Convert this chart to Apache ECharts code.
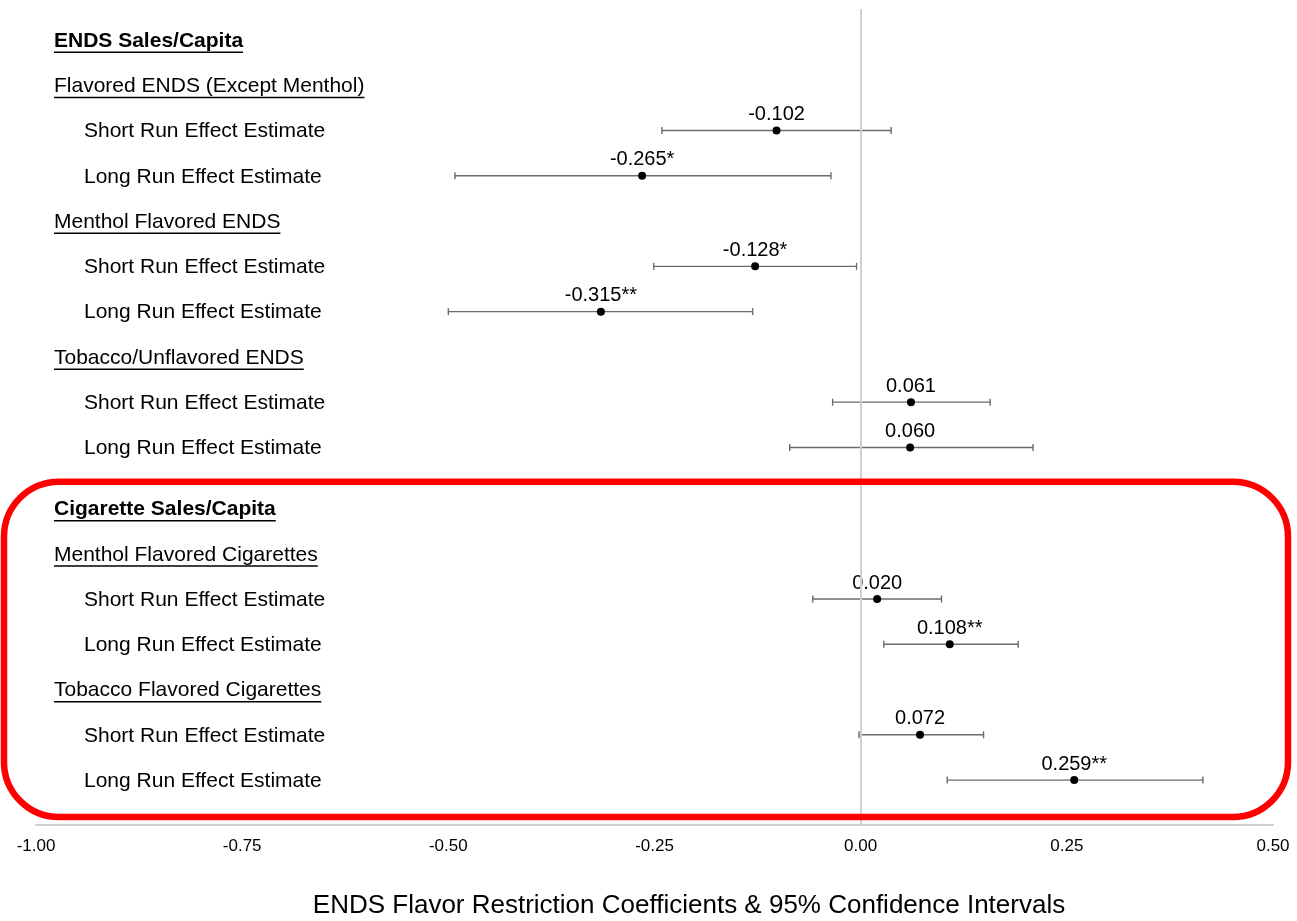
<!DOCTYPE html>
<html>
<head>
<meta charset="utf-8">
<title>ENDS Flavor Restriction Coefficients</title>
<script src="https://cdn.jsdelivr.net/npm/echarts@6/dist/echarts.min.js"></script>
<style>
  html, body { margin: 0; padding: 0; background: #fff; }
  #chart { width: 1297px; height: 921px; }
</style>
</head>
<body>
<div id="chart"></div>
<script>
// Row labels, top to bottom; kind: 'group' (bold header), 'sub' (product), 'est' (estimate row)
const rowLabels = [
  'ENDS Sales/Capita',
  'Flavored ENDS (Except Menthol)',
  'Short Run Effect Estimate',
  'Long Run Effect Estimate',
  'Menthol Flavored ENDS',
  'Short Run Effect Estimate',
  'Long Run Effect Estimate',
  'Tobacco/Unflavored ENDS',
  'Short Run Effect Estimate',
  'Long Run Effect Estimate',
  'Cigarette Sales/Capita',
  'Menthol Flavored Cigarettes',
  'Short Run Effect Estimate',
  'Long Run Effect Estimate',
  'Tobacco Flavored Cigarettes',
  'Short Run Effect Estimate',
  'Long Run Effect Estimate'
];
const rowKinds = [
  'group', 'sub', 'est', 'est', 'sub', 'est', 'est', 'sub', 'est', 'est',
  'group', 'sub', 'est', 'est', 'sub', 'est', 'est'
];

// Coefficients and 95% confidence bounds (null on header rows)
const estimates = [null, null, -0.102, -0.265, null, -0.128, -0.315, null, 0.061, 0.060,
                   null, null, 0.020, 0.108, null, 0.072, 0.259];
const ciLow     = [null, null, -0.241, -0.492, null, -0.251, -0.500, null, -0.034, -0.086,
                   null, null, -0.058, 0.028, null, -0.002, 0.105];
const ciHigh    = [null, null, 0.037, -0.036, null, -0.005, -0.131, null, 0.157, 0.209,
                   null, null, 0.098, 0.191, null, 0.149, 0.415];
const stars     = ['', '', '', '*', '', '*', '**', '', '', '',
                   '', '', '', '**', '', '', '**'];

// X axis ticks
const xTicks = [-1.00, -0.75, -0.50, -0.25, 0.00, 0.25, 0.50];
const axisTitle = 'ENDS Flavor Restriction Coefficients & 95% Confidence Intervals';

const FONT = '"Liberation Sans", Arial, Helvetica, sans-serif';
const LABEL_SIZE = 21;
// extra vertical space (in rows) before the cigarette block
const BLOCK_GAP = 0.348;
const rowPos = rowLabels.map((_, i) => (i >= 10 ? i + BLOCK_GAP : i));

const measureCtx = document.createElement('canvas').getContext('2d');
function textWidth(str, bold) {
  measureCtx.font = (bold ? 'bold ' : '') + LABEL_SIZE + 'px ' + FONT;
  return measureCtx.measureText(str).width;
}

const labelData = rowLabels.map((name, i) => [rowPos[i], i]);
const ciData = [];
const pointData = [];
estimates.forEach((v, i) => {
  if (v === null) return;
  ciData.push([rowPos[i], ciLow[i], ciHigh[i]]);
  pointData.push({ value: [v, rowPos[i]], star: stars[i] });
});

const chart = echarts.init(document.getElementById('chart'), null, { renderer: 'canvas' });

chart.setOption({
  animation: false,
  backgroundColor: '#ffffff',
  grid: { left: 36, right: 24, top: 9, bottom: 96, containLabel: false },
  xAxis: {
    type: 'value',
    position: 'bottom',
    min: xTicks[0],
    max: xTicks[xTicks.length - 1],
    interval: 0.25,
    axisLine: { show: true, onZero: false, lineStyle: { color: '#cfcfcf', width: 2 } },
    axisTick: { show: false },
    splitLine: { show: false },
    axisLabel: {
      color: '#000',
      fontFamily: FONT,
      fontSize: 17,
      margin: 13,
      formatter: v => v.toFixed(2)
    }
  },
  yAxis: {
    type: 'value',
    inverse: true,
    min: -0.685,
    max: 17.34,
    show: false
  },
  graphic: [
    {
      type: 'rect',
      shape: { x: 4, y: 481.7, width: 1284, height: 335.3, r: 55 },
      style: { fill: 'none', stroke: '#ff0000', lineWidth: 6.5 },
      z: 10
    },
    {
      type: 'text',
      x: 689,
      y: 906,
      style: {
        text: axisTitle,
        fill: '#000',
        font: '26px ' + FONT,
        textAlign: 'center',
        textVerticalAlign: 'middle'
      }
    }
  ],
  series: [
    {
      type: 'custom',
      name: 'rows',
      silent: true,
      data: labelData,
      encode: { y: 0 },
      renderItem: function (params, api) {
        const i = api.value(1);
        const kind = rowKinds[i];
        const y = api.coord([0, api.value(0)])[1];
        const x = kind === 'est' ? 84 : 54;
        const bold = kind === 'group';
        const children = [{
          type: 'text',
          style: {
            x: x,
            y: y + 1,
            text: rowLabels[i],
            fill: '#000',
            font: (bold ? 'bold ' : '') + LABEL_SIZE + 'px ' + FONT,
            textAlign: 'left',
            textVerticalAlign: 'middle'
          }
        }];
        if (kind !== 'est') {
          children.push({
            type: 'rect',
            shape: { x: x, y: y + 11.5, width: textWidth(rowLabels[i], bold), height: 1.5 },
            style: { fill: '#000' }
          });
        }
        return { type: 'group', children: children };
      }
    },
    {
      type: 'custom',
      name: 'ci',
      silent: true,
      data: ciData,
      encode: { y: 0, x: [1, 2] },
      renderItem: function (params, api) {
        const pos = api.value(0);
        const a = api.coord([api.value(1), pos]);
        const b = api.coord([api.value(2), pos]);
        const cap = 3.5;
        const style = { stroke: '#6b6b6b', lineWidth: 1.4 };
        return {
          type: 'group',
          children: [
            { type: 'line', shape: { x1: a[0], y1: a[1], x2: b[0], y2: b[1] }, style: style },
            { type: 'line', shape: { x1: a[0], y1: a[1] - cap, x2: a[0], y2: a[1] + cap }, style: style },
            { type: 'line', shape: { x1: b[0], y1: b[1] - cap, x2: b[0], y2: b[1] + cap }, style: style }
          ]
        };
      },
      markLine: {
        silent: true,
        symbol: ['none', 'none'],
        label: { show: false },
        lineStyle: { color: '#d0d0d0', width: 2, type: 'solid' },
        data: [{ xAxis: 0 }]
      },
      z: 3
    },
    {
      type: 'scatter',
      name: 'estimate',
      silent: true,
      data: pointData,
      symbol: 'circle',
      symbolSize: 8,
      itemStyle: { color: '#000', opacity: 1 },
      label: {
        show: true,
        position: 'inside',
        offset: [0, -16],
        color: '#000',
        fontFamily: FONT,
        fontSize: 20,
        formatter: p => p.value[0].toFixed(3) + p.data.star
      },
      z: 4
    }
  ]
});
</script>
</body>
</html>
